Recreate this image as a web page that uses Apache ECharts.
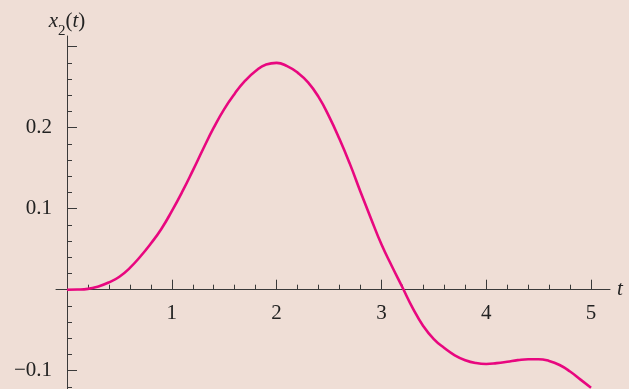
<!DOCTYPE html>
<html>
<head>
<meta charset="utf-8">
<script src="https://cdn.jsdelivr.net/npm/echarts@6/dist/echarts.min.js"></script>
<style>
  html, body { margin: 0; padding: 0; background: #EFDED6; }
  #chart { width: 629px; height: 389px; }
</style>
</head>
<body>
<div id="chart"></div>
<script>
// Sampled response x2(t)
const tValues = [
  0.0, 0.1, 0.2, 0.3, 0.4, 0.5, 0.6, 0.7, 0.8, 0.9,
  1.0, 1.1, 1.2, 1.3, 1.4, 1.5, 1.6, 1.7, 1.8, 1.9,
  2.0, 2.1, 2.2, 2.3, 2.4, 2.5, 2.6, 2.7, 2.8, 2.9,
  3.0, 3.1, 3.2, 3.3, 3.4, 3.5, 3.6, 3.7, 3.8, 3.9,
  4.0, 4.1, 4.2, 4.3, 4.4, 4.5, 4.6, 4.7, 4.8, 4.9, 5.0
];
const x2Values = [
  0.000, 0.0002, 0.001, 0.004, 0.009, 0.016, 0.027, 0.041, 0.057, 0.075,
  0.097, 0.121, 0.147, 0.174, 0.200, 0.223, 0.242, 0.258, 0.270, 0.278,
  0.280, 0.276, 0.268, 0.256, 0.238, 0.214, 0.186, 0.155, 0.121, 0.088,
  0.056, 0.029, 0.003, -0.023, -0.045, -0.061, -0.072, -0.081, -0.087, -0.0905,
  -0.0917, -0.0907, -0.089, -0.087, -0.0858, -0.0858, -0.088, -0.093, -0.101, -0.111, -0.121
];

// Axis ticks and labels
const xMajorTicks = [1, 2, 3, 4, 5];
const xMinorTicks = [0.2, 0.4, 0.6, 0.8, 1.2, 1.4, 1.6, 1.8, 2.2, 2.4, 2.6, 2.8,
                     3.2, 3.4, 3.6, 3.8, 4.2, 4.4, 4.6, 4.8];
const yMajorTicks = [-0.1, 0.1, 0.2, 0.3];
const yLabelValues = [-0.1, 0.1, 0.2];
const yMinorTicks = [-0.12, -0.08, -0.06, -0.04, -0.02, 0.02, 0.04, 0.06, 0.08,
                     0.12, 0.14, 0.16, 0.18, 0.22, 0.24, 0.26, 0.28];

const X_MIN = -0.105, X_MAX = 5.181;
const Y_MIN = -0.1226, Y_MAX = 0.3132;

const axisColor = '#3a3a3a';
const serif = '"Liberation Serif", "DejaVu Serif", serif';
const fontSize = 21;

function fmt(v) {
  const s = String(Math.round(v * 10) / 10);
  return s.replace('-', '\u2212');
}

const chart = echarts.init(document.getElementById('chart'), null, { renderer: 'canvas' });

const baseX = {
  type: 'value', min: X_MIN, max: X_MAX, position: 'bottom',
  splitLine: { show: false }
};
const baseY = {
  type: 'value', min: Y_MIN, max: Y_MAX, position: 'left',
  splitLine: { show: false }
};

chart.setOption({
  backgroundColor: '#EFDED6',
  animation: false,
  grid: { left: 56, right: 19, top: 36, bottom: 0, containLabel: false, outerBoundsMode: 'none' },
  xAxis: [
    Object.assign({}, baseX, {
      name: 't',
      nameLocation: 'end',
      nameGap: 7,
      nameTextStyle: { fontFamily: serif, fontStyle: 'italic', fontSize: fontSize, color: '#222', verticalAlign: 'middle' },
      axisLine: { onZero: true, onZeroAxisIndex: 0, lineStyle: { color: axisColor, width: 1 } },
      axisTick: { show: true, inside: true, length: 10, customValues: xMajorTicks, lineStyle: { color: axisColor, width: 1 } },
      // tick labels sit just under the zero line
      axisLabel: { show: true, customValues: xMajorTicks, margin: -86, fontFamily: serif, fontSize: fontSize, color: '#222', formatter: v => String(Math.round(v)) }
    }),
    Object.assign({}, baseX, {
      axisLine: { onZero: true, onZeroAxisIndex: 0, lineStyle: { color: axisColor, width: 1, opacity: 0 } },
      axisTick: { show: true, inside: true, length: 5, customValues: xMinorTicks, lineStyle: { color: axisColor, width: 1 } },
      axisLabel: { show: false }
    })
  ],
  yAxis: [
    Object.assign({}, baseY, {
      name: '{i|x}{s|2}{n|(}{i|t}{n|)}',
      nameLocation: 'end',
      nameGap: 4,
      nameTextStyle: {
        align: 'center',
        verticalAlign: 'bottom',
        rich: {
          i: { fontFamily: serif, fontStyle: 'italic', fontSize: fontSize, color: '#222' },
          s: { fontFamily: serif, fontSize: 15, color: '#222', verticalAlign: 'bottom', padding: [0, 0, -7, 0] },
          n: { fontFamily: serif, fontSize: fontSize, color: '#222' }
        }
      },
      axisLine: { onZero: true, onZeroAxisIndex: 0, lineStyle: { color: axisColor, width: 1 } },
      axisTick: { show: true, inside: true, length: 10, customValues: yMajorTicks, lineStyle: { color: axisColor, width: 1 } },
      axisLabel: { show: true, customValues: yLabelValues, margin: 4, fontFamily: serif, fontSize: fontSize, color: '#222', formatter: fmt }
    }),
    Object.assign({}, baseY, {
      axisLine: { onZero: true, onZeroAxisIndex: 0, lineStyle: { color: axisColor, width: 1, opacity: 0 } },
      axisTick: { show: true, inside: true, length: 5, customValues: yMinorTicks, lineStyle: { color: axisColor, width: 1 } },
      axisLabel: { show: false }
    })
  ],
  series: [{
    type: 'line',
    xAxisIndex: 0,
    yAxisIndex: 0,
    data: tValues.map((t, i) => [t, x2Values[i]]),
    smooth: 0.5,
    showSymbol: false,
    clip: false,
    lineStyle: { color: '#E8077F', width: 2.6 }
  }]
});
</script>
</body>
</html>
